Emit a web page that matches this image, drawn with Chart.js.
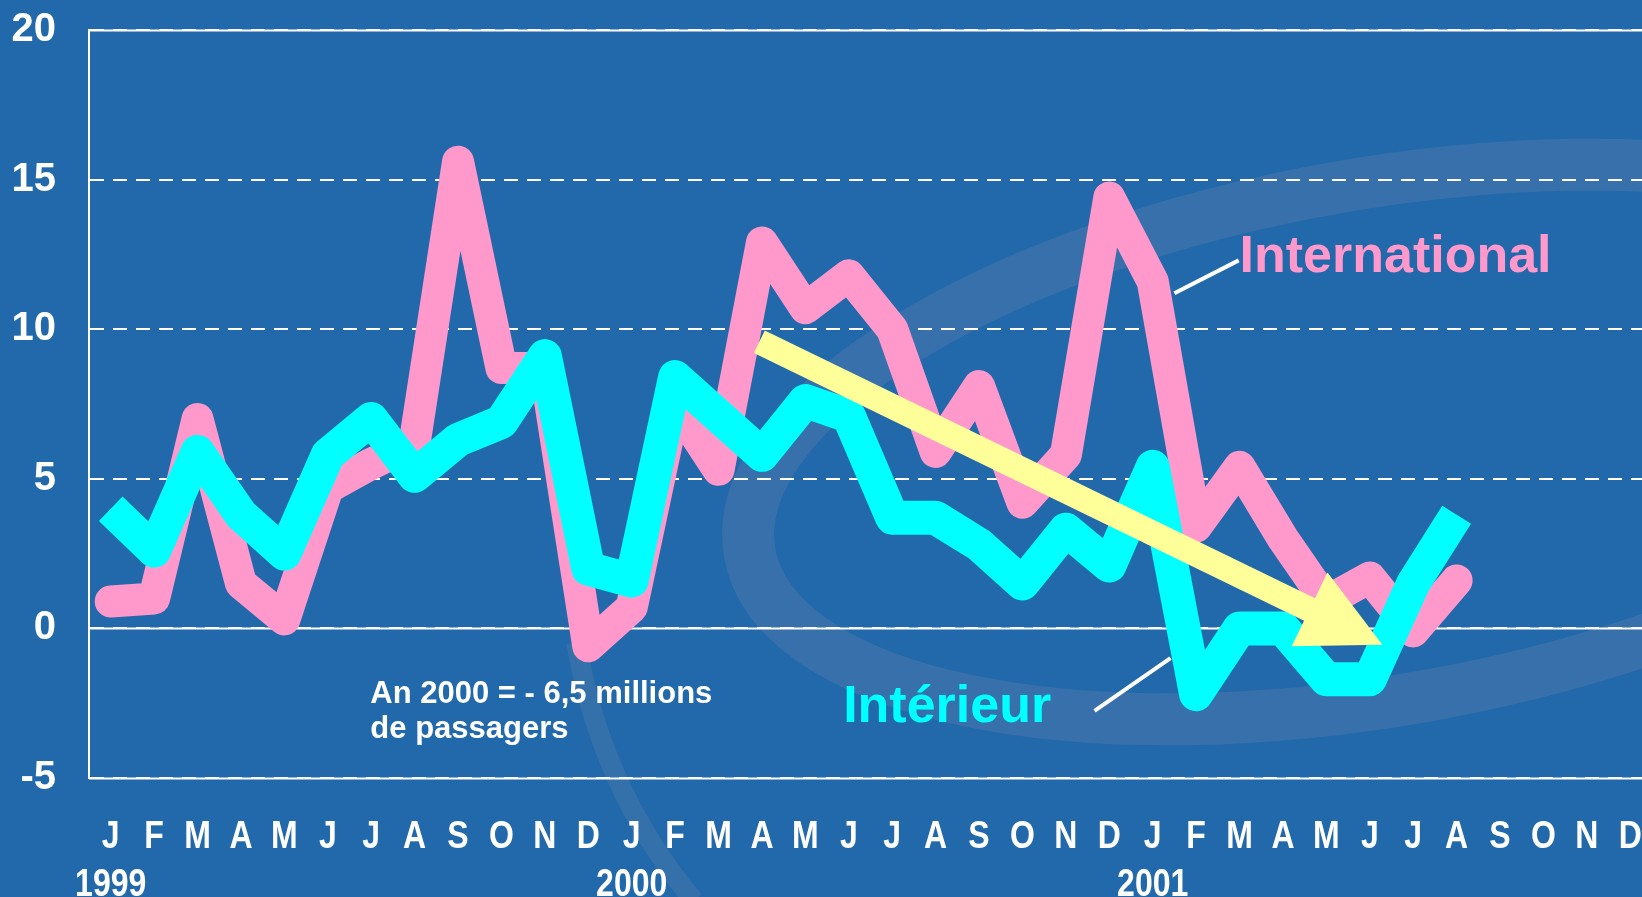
<!DOCTYPE html>
<html>
<head>
<meta charset="utf-8">
<script src="https://cdn.jsdelivr.net/npm/chart.js@4.4.1/dist/chart.umd.min.js"></script>
<style>
  html, body { margin: 0; padding: 0; background: #2169aa; overflow: hidden; }
  #wrap { position: absolute; left: 0; top: 0; width: 1652px; height: 904px; }
</style>
</head>
<body>
<div id="wrap"><canvas id="chart" width="1652" height="904"></canvas></div>
<script>
// monthly traffic growth (%), Jan 1999 .. Aug 2001
const MONTHS = ["J", "F", "M", "A", "M", "J", "J", "A", "S", "O", "N", "D"];
const YEARS = ["1999", "2000", "2001"];
const international = [0.9, 1.0, 7.0, 1.5, 0.3, 4.7, 5.5, 6.2, 15.6, 8.7, 8.7, -0.6,
  0.7, 7.5, 5.3, 12.9, 10.7, 11.8, 10.0, 5.9, 8.1, 4.2, 5.8, 14.4,
  11.6, 3.4, 5.4, 3.0, 0.9, 1.7, -0.1, 1.6];
const interieur = [4.0, 2.6, 5.9, 3.8, 2.5, 5.8, 7.0, 5.1, 6.3, 6.9, 9.1, 2.0,
  1.6, 8.4, 7.1, 5.8, 7.6, 7.1, 3.7, 3.7, 2.8, 1.5, 3.3, 2.1,
  5.4, -2.2, 0.0, 0.0, -1.7, -1.7, 1.5, 3.8];
const Y_TICKS = [-5, 0, 5, 10, 15, 20];

// x labels: month letter, year under each January
const xLabels = [];
YEARS.forEach((y) => MONTHS.forEach((m, i) => xLabels.push(i === 0 ? [m, y] : [m])));

const FONT = "'Liberation Sans', Arial, sans-serif";
const PINK = "#ff99cc", CYAN = "#00ffff", YELLOW = "#ffff99";

// annotation anchors, in (month index, value) units
const NOTE = { x: 5.98, y: -2.5, lines: ["An 2000 = - 6,5 millions", "de passagers"] };
const LBL_INT = { x: 26.0, y: 11.9, text: "International" };
const LBL_DOM = { x: 16.87, y: -3.13, text: "Intérieur" };
const LEAD_INT = [[24.5, 11.2], [25.98, 12.3]];
const LEAD_DOM = [[22.66, -2.76], [24.41, -0.99]];
const ARROW = [[14.94, 9.58], [29.29, -0.55]];

// faint swirl in the slide background
const swirl = {
  id: "swirl",
  beforeDraw(chart) {
    const c = chart.ctx;
    c.save();
    c.strokeStyle = "rgba(125,135,175,0.25)";
    c.lineWidth = 52;
    c.beginPath();
    c.ellipse(1380, 442, 640, 258, -10 * Math.PI / 180, 0, Math.PI * 2);
    c.stroke();
    c.strokeStyle = "rgba(125,135,175,0.22)";
    c.lineWidth = 20;
    c.beginPath();
    c.arc(1100, 560, 530, 140 * Math.PI / 180, 171 * Math.PI / 180);
    c.stroke();
    c.restore();
  },
};

const overlay = {
  id: "overlay",
  beforeDatasetsDraw(chart) {
    // solid lines at top, zero and bottom of the grid
    const { ctx: c, chartArea: a, scales: { y } } = chart;
    c.save();
    c.strokeStyle = "#ffffff";
    c.lineWidth = 2;
    [20, 0, -5].forEach((v) => {
      const py = Math.round(y.getPixelForValue(v)) + 0.5;
      c.beginPath();
      c.moveTo(a.left, py);
      c.lineTo(a.right, py);
      c.stroke();
    });
    c.restore();
  },
  afterDatasetsDraw(chart) {
    const { ctx: c, scales: { x, y } } = chart;
    const px = (p) => [x.getPixelForValue(p[0]), y.getPixelForValue(p[1])];
    c.save();

    // trend arrow
    const [s, t] = ARROW.map(px);
    const dx = t[0] - s[0], dy = t[1] - s[1];
    const len = Math.hypot(dx, dy), ux = dx / len, uy = dy / len;
    const nx = -uy, ny = ux;
    const shaft = 12.5, headL = 81, headW = 41;
    const bx = t[0] - ux * headL, by = t[1] - uy * headL;
    c.fillStyle = YELLOW;
    c.beginPath();
    c.moveTo(s[0] + nx * shaft, s[1] + ny * shaft);
    c.lineTo(bx + nx * shaft, by + ny * shaft);
    c.lineTo(bx + nx * headW, by + ny * headW);
    c.lineTo(t[0], t[1]);
    c.lineTo(bx - nx * headW, by - ny * headW);
    c.lineTo(bx - nx * shaft, by - ny * shaft);
    c.lineTo(s[0] - nx * shaft, s[1] - ny * shaft);
    c.closePath();
    c.fill();

    // leader lines
    c.strokeStyle = "#ffffff";
    c.lineWidth = 4;
    [LEAD_INT, LEAD_DOM].forEach((seg) => {
      const [p1, p2] = seg.map(px);
      c.beginPath();
      c.moveTo(p1[0], p1[1]);
      c.lineTo(p2[0], p2[1]);
      c.stroke();
    });

    // series names
    c.textAlign = "left";
    c.textBaseline = "alphabetic";
    c.font = `bold 52px ${FONT}`;
    c.fillStyle = PINK;
    let p = px([LBL_INT.x, LBL_INT.y]);
    c.fillText(LBL_INT.text, p[0], p[1]);
    c.fillStyle = CYAN;
    p = px([LBL_DOM.x, LBL_DOM.y]);
    c.fillText(LBL_DOM.text, p[0], p[1]);

    // note
    c.font = `bold 31px ${FONT}`;
    c.fillStyle = "#ffffff";
    p = px([NOTE.x, NOTE.y]);
    NOTE.lines.forEach((l, i) => c.fillText(l, p[0], p[1] + i * 35));
    c.restore();
  },
  afterDraw(chart) {
    // month / year labels, a little taller than wide like the slide font
    const { ctx: c, scales: { x } } = chart;
    c.save();
    c.fillStyle = "#ffffff";
    c.font = `bold 32px ${FONT}`;
    c.textAlign = "center";
    c.textBaseline = "alphabetic";
    chart.data.labels.forEach((lbl, i) => {
      const cx = x.getPixelForTick(i);
      lbl.forEach((line, k) => {
        c.save();
        c.translate(cx, x.top + 70 + k * 48);
        c.scale(1, 1.2);
        c.fillText(line, 0, 0);
        c.restore();
      });
    });
    c.restore();
  },
};

new Chart(document.getElementById("chart"), {
  type: "line",
  data: {
    labels: xLabels,
    datasets: [
      { label: "Intérieur", data: interieur, borderColor: CYAN, borderWidth: 34,
        pointRadius: 0, tension: 0, borderJoinStyle: "round", borderCapStyle: "butt" },
      { label: "International", data: international, borderColor: PINK, borderWidth: 32,
        pointRadius: 0, tension: 0, borderJoinStyle: "round", borderCapStyle: "round" },
    ],
  },
  options: {
    responsive: false,
    animation: false,
    layout: { padding: { top: 30, left: 0, right: 0, bottom: 0 } },
    plugins: { legend: { display: false }, tooltip: { enabled: false } },
    scales: {
      x: {
        offset: true,
        grid: { display: false, drawTicks: false },
        border: { display: false },
        ticks: { display: false, autoSkip: false, maxRotation: 0 },
        afterFit: (s) => {
          s.height = 126;
          s.paddingLeft = 0; s.paddingRight = 0;
        },
      },
      y: {
        min: -5, max: 20,
        afterBuildTicks: (s) => { s.ticks = Y_TICKS.map((v) => ({ value: v })); },
        grid: { color: "#ffffff", lineWidth: 2, drawTicks: false },
        border: { display: true, color: "#ffffff", width: 2, dash: [14, 9] },
        ticks: {
          color: "#ffffff", padding: 33,
          font: { family: FONT, size: 40, weight: "bold", lineHeight: 1 },
        },
        afterFit: (s) => {
          s.width = 89;
          s.paddingTop = 0; s.paddingBottom = 0;
        },
      },
    },
  },
  plugins: [swirl, overlay],
});
</script>
</body>
</html>
